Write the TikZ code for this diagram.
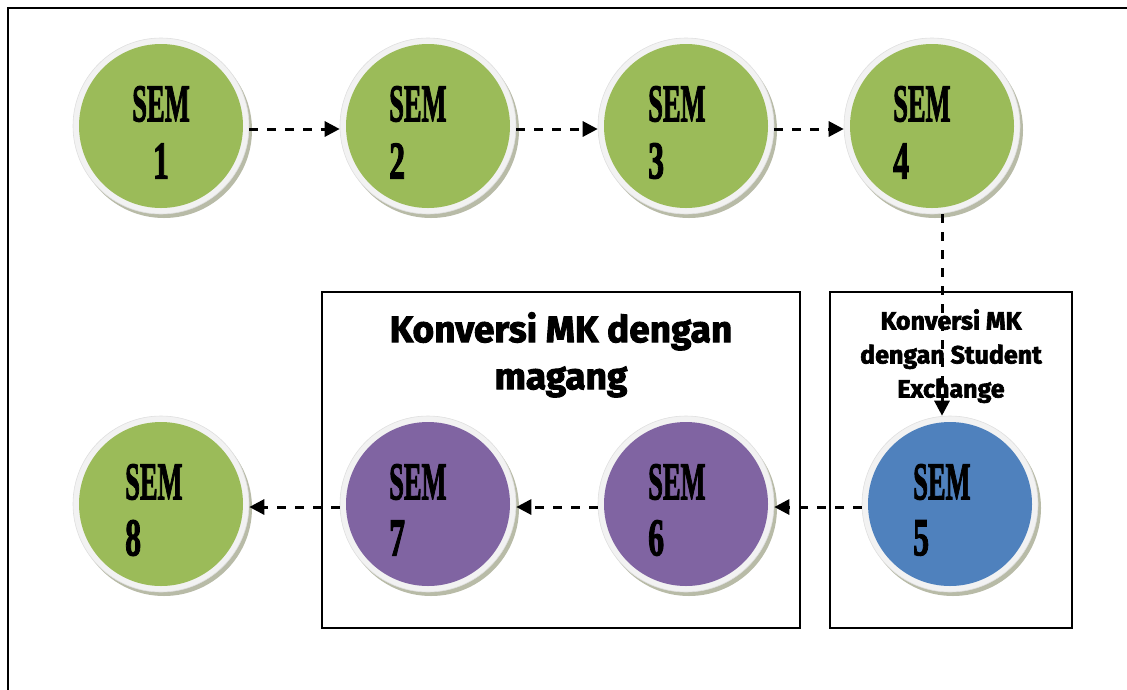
\documentclass[tikz,border=0pt]{standalone}
\usepackage{fontspec}
\usepackage{graphicx}
\usetikzlibrary{arrows.meta,shadows}
\newfontfamily\semfont{Liberation Serif}[BoldFeatures={FakeBold=2.5}]
\newfontfamily\boxfont{Fira Sans}[BoldFeatures={FakeBold=2.5}]
\definecolor{sgreen}{HTML}{9BBB59}
\definecolor{spurple}{HTML}{8064A2}
\definecolor{sblue}{HTML}{4F81BD}
\definecolor{sring}{HTML}{F2F2F2}
\definecolor{sshadow}{HTML}{9A9E82}
\newcommand{\semlabel}[1]{\scalebox{0.5}[1]{#1}}
\newcommand{\diglabel}[1]{\scalebox{0.6}[1]{#1}}
\begin{document}
\begin{tikzpicture}[x=1pt,y=-1pt,
  ring/.style={circle,fill=sring,draw=gray!25,line width=0.6pt,minimum size=176pt,inner sep=0pt,
    drop shadow={shadow xshift=3pt,shadow yshift=-4pt,fill=sshadow,opacity=0.7}},
  semtxt/.style={font=\semfont\bfseries\fontsize{53}{53}\selectfont,inner sep=0pt,anchor=west},
  arr/.style={line width=3pt,dash pattern=on 9pt off 9pt,-{Triangle[length=15pt,width=15pt]}},
  boxframe/.style={draw,line width=2pt,inner sep=0pt},
  boxtext/.style={font=\boxfont\bfseries,align=center,inner sep=0pt}]
\useasboundingbox (0,0) rectangle (1127,689);
% outer frame
\draw[line width=2.7pt] (8,700) -- (8,8) -- (1140,8);
% boxes
\node[boxframe,minimum width=478pt,minimum height=336pt] (b1) at (561,460) {};
\node[boxframe,minimum width=242pt,minimum height=336pt] (b2) at (951,460) {};
% circles
\node[ring] (s1) at (161,126) {};
\node[ring] (s2) at (428,126) {};
\node[ring] (s3) at (686,126) {};
\node[ring] (s4) at (932,126) {};
\node[ring] (s5) at (950,504) {};
\node[ring] (s6) at (686,504) {};
\node[ring] (s7) at (428,504) {};
\node[ring] (s8) at (161,504) {};
\fill[sgreen] (s1.center) circle[radius=82];
\fill[sgreen] (s2.center) circle[radius=82];
\fill[sgreen] (s3.center) circle[radius=82];
\fill[sgreen] (s4.center) circle[radius=82];
\fill[sblue] (s5.center) circle[radius=82];
\fill[spurple] (s6.center) circle[radius=82];
\fill[spurple] (s7.center) circle[radius=82];
\fill[sgreen] (s8.center) circle[radius=82];
% arrows
\draw[arr] ([yshift=-3pt]s1.east) -- ([yshift=-3pt]s2.west);
\draw[arr] ([yshift=-3pt]s2.east) -- ([yshift=-3pt]s3.west);
\draw[arr] ([yshift=-3pt]s3.east) -- ([yshift=-3pt]s4.west);
\draw[arr] ([xshift=10pt]s4.south) -- ([xshift=-8pt]s5.north);
\draw[arr] ([yshift=-3pt]s5.west) -- ([yshift=-3pt]s6.east);
\draw[arr] ([yshift=-3pt]s6.west) -- ([yshift=-3pt]s7.east);
\draw[arr] ([yshift=-3pt]s7.west) -- ([yshift=-3pt]s8.east);
% circle labels
\node[semtxt,anchor=center] (l1a) at (161,104) {\semlabel{SEM}};
\node[semtxt,anchor=center] (l1b) at (161,161) {\diglabel{1}};
\node[semtxt] (l2a) at (389,104) {\semlabel{SEM}};
\node[semtxt] (l2b) at (389,161) {\diglabel{2}};
\node[semtxt] (l3a) at (648,104) {\semlabel{SEM}};
\node[semtxt] (l3b) at (648,161) {\diglabel{3}};
\node[semtxt] (l4a) at (893,104) {\semlabel{SEM}};
\node[semtxt] (l4b) at (893,161) {\diglabel{4}};
\node[semtxt] (l5a) at (913,482) {\semlabel{SEM}};
\node[semtxt] (l5b) at (913,538) {\diglabel{5}};
\node[semtxt] (l6a) at (648,482) {\semlabel{SEM}};
\node[semtxt] (l6b) at (648,538) {\diglabel{6}};
\node[semtxt] (l7a) at (389,482) {\semlabel{SEM}};
\node[semtxt] (l7b) at (389,538) {\diglabel{7}};
\node[semtxt] (l8a) at (125,482) {\semlabel{SEM}};
\node[semtxt] (l8b) at (125,538) {\diglabel{8}};
% box texts
\node[boxtext,font=\boxfont\bfseries\fontsize{37}{47}\selectfont,anchor=north] (t1) at (561,312) {Konversi MK dengan\\magang};
\node[boxtext,font=\boxfont\bfseries\fontsize{25}{34}\selectfont,anchor=north] (t2) at (951,309) {Konversi MK\\dengan Student\\Exchange};
\end{tikzpicture}
\end{document}
